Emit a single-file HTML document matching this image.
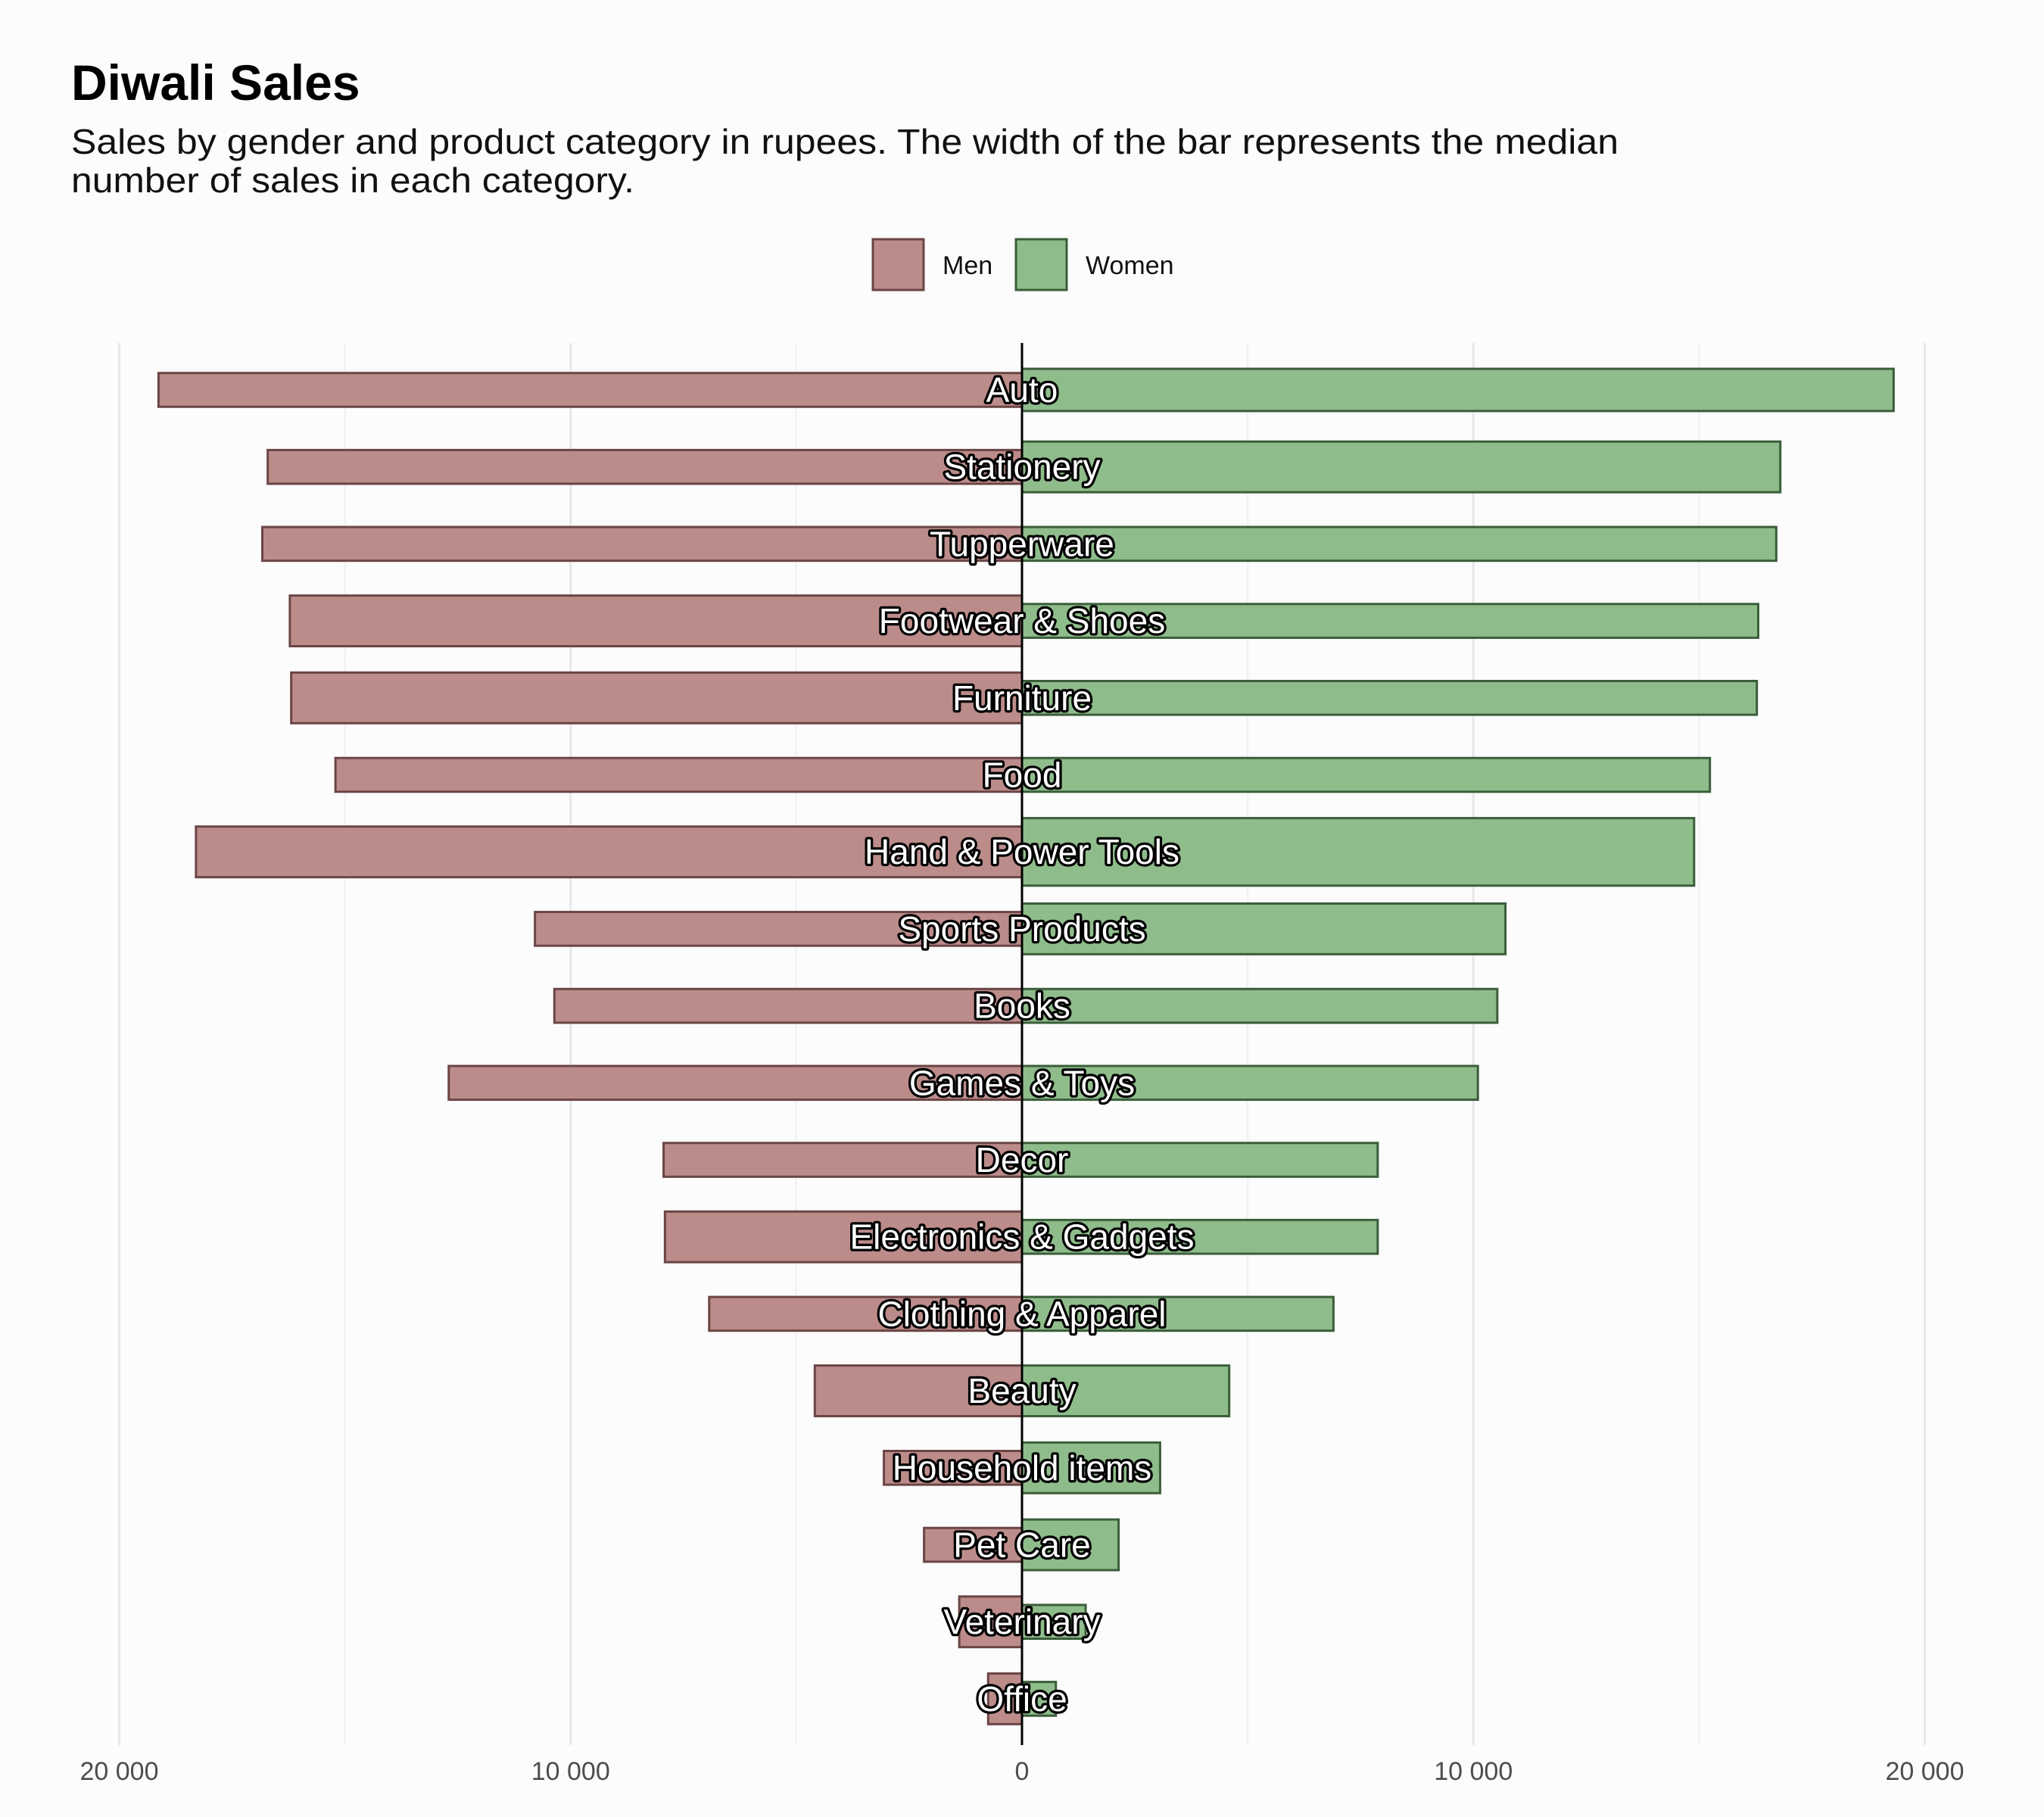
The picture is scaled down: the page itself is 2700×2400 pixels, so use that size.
<!DOCTYPE html>
<html><head><meta charset="utf-8"><style>
html,body{margin:0;padding:0;background:#fcfcfc;}
svg{display:block;font-family:"Liberation Sans",Arial,sans-serif;}
</style></head><body>
<svg id="chart" width="2700" height="2400" viewBox="0 0 2700 2400" xmlns="http://www.w3.org/2000/svg">
<rect width="2700" height="2400" fill="#fcfcfc"/>
<text x="94" y="132" font-size="66" font-weight="bold" fill="#000">Diwali Sales</text>
<text x="94" y="203" font-size="46" fill="#111" textLength="2044" lengthAdjust="spacingAndGlyphs">Sales by gender and product category in rupees. The width of the bar represents the median</text>
<text x="94" y="254" font-size="46" fill="#111" textLength="744" lengthAdjust="spacingAndGlyphs">number of sales in each category.</text>
<g>
<rect x="1153" y="316" width="67" height="67" fill="#bc8c8a" stroke="#6b4545" stroke-width="3"/>
<text x="1245" y="362" font-size="34" fill="#111">Men</text>
<rect x="1342" y="316" width="67" height="67" fill="#8fbc8b" stroke="#3a5e3a" stroke-width="3"/>
<text x="1434" y="362" font-size="34" fill="#111">Women</text>
</g>
<g id="grid"></g><g id="bars"></g><g id="zero"></g><g id="labels"></g><g id="ticks"></g>
</svg>
<script>
const categories = ["Auto","Stationery","Tupperware","Footwear & Shoes","Furniture","Food","Hand & Power Tools","Sports Products","Books","Games & Toys","Decor","Electronics & Gadgets","Clothing & Apparel","Beauty","Household items","Pet Care","Veterinary","Office"];
const menSales = [19130,16710,16830,16220,16190,15210,18300,10790,10360,12700,7940,7910,6930,4590,3060,2170,1390,750];
const womenSales = [19310,16800,16710,16310,16280,15240,14890,10710,10530,10100,7880,7880,6900,4590,3060,2140,1410,750];
const menMedian = [2,2,2,3,3,2,3,2,2,2,2,3,2,3,2,2,3,3];
const womenMedian = [2.5,3,2,2,2,2,4,3,2,2,2,2,2,3,3,3,2,2];
const tickValues = [-20000,-10000,0,10000,20000];
const tickLabels = ["20 000","10 000","0","10 000","20 000"];
const minorValues = [-15000,-5000,5000,15000];

const NS = "http://www.w3.org/2000/svg";
const x0 = 1350, pxPer = 1192.5/20000;
const xScale = v => x0 + v*pxPer;
const yTop = 453, yBot = 2305, row0 = 515, rowStep = 101.7;
const yScale = i => row0 + i*rowStep;
const thick = m => m*22.3;
function mk(tag, attrs, parent){const e=document.createElementNS(NS,tag);for(const k in attrs)e.setAttribute(k,attrs[k]);parent.appendChild(e);return e;}
const grid=document.getElementById('grid'), bars=document.getElementById('bars'), labels=document.getElementById('labels'), ticks=document.getElementById('ticks'), zero=document.getElementById('zero');

minorValues.forEach(v=>{
  const l=mk('line',{x1:xScale(v),x2:xScale(v),y1:yTop,y2:yBot,stroke:'#f0f0f0','stroke-width':2},grid);
  
  
});
tickValues.forEach((v,i)=>{
  const l=mk('line',{x1:xScale(v),x2:xScale(v),y1:yTop,y2:yBot,stroke:'#e8e8e8','stroke-width':3},grid);
  
  
  const t=mk('text',{x:xScale(v),y:2351,'text-anchor':'middle','font-size':34,fill:'#4d4d4d'},ticks);
  t.textContent=tickLabels[i];
  
  
});
categories.forEach((c,i)=>{
  const cy=yScale(i);
  const hm=thick(menMedian[i]), hw=thick(womenMedian[i]);
  const m=mk('rect',{x:xScale(-menSales[i]),y:cy-hm/2,width:xScale(0)-xScale(-menSales[i]),height:hm,fill:'#bc8c8a',stroke:'#6b4545','stroke-width':3},bars);
  
  
  const w=mk('rect',{x:xScale(0),y:cy-hw/2,width:xScale(womenSales[i])-xScale(0),height:hw,fill:'#8fbc8b',stroke:'#3a5e3a','stroke-width':3},bars);
  
  
  const t=mk('text',{x:x0,y:cy+16,'text-anchor':'middle','font-size':46,fill:'#fff',stroke:'#000','stroke-width':6.5,'stroke-linejoin':'round','paint-order':'stroke'},labels);
  t.textContent=c;
  
  
});
const z=mk('line',{x1:x0,x2:x0,y1:yTop,y2:yBot,stroke:'#000','stroke-width':3},zero);


</script>
</body></html>
